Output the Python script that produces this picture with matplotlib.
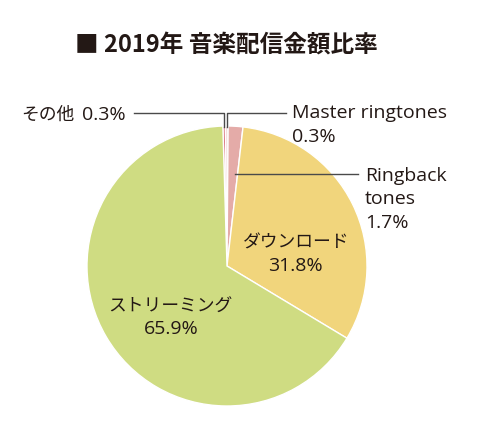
import numpy as np
import matplotlib
matplotlib.use("Agg")
import matplotlib.pyplot as plt

plt.rcParams['font.family'] = ['Noto Sans CJK JP', 'DejaVu Sans']

# ---- DATA ----
title = "■ 2019年 音楽配信金額比率"
labels = ["その他", "Master ringtones", "Ringback tones", "ダウンロード", "ストリーミング"]
shares = [0.3, 0.3, 1.7, 31.8, 65.9]
colors = ["#d9737d", "#f2d2d0", "#e4aba8", "#f1d57c", "#cfdc82"]

ink = "#231815"
line_col = "#4a4a4a"
latin = ['Open Sans', 'Noto Sans CJK JP']
cjk = ['Noto Sans CJK JP', 'Open Sans']
fs_lat, fs_cjk = 14, 12.8

W, H = 482, 442
fig = plt.figure(figsize=(W / 100, H / 100), dpi=100)
ax = fig.add_axes([0, 0, 1, 1])

cx, cy, r = 227, H - 266, 140
start = 91.7

wedges, _ = ax.pie(shares, colors=colors, startangle=start, counterclock=False,
                   center=(cx, cy), radius=r, frame=True,
                   wedgeprops=dict(edgecolor="white", linewidth=1.0))
ax.set_xlim(0, W)
ax.set_ylim(0, H)
ax.set_aspect("equal")
ax.axis("off")


def edge_point(w, frac=1.0):
    mid = np.deg2rad((w.theta1 + w.theta2) / 2)
    return cx + frac * r * np.cos(mid), cy + frac * r * np.sin(mid)


def lat(x, y, s, ha="left"):
    ax.text(x, H - y, s, ha=ha, va="baseline", fontsize=fs_lat, color=ink, family=latin)


def jp(x, y, s, ha="left"):
    ax.text(x, H - y, s, ha=ha, va="baseline", fontsize=fs_cjk, color=ink, family=cjk)


# その他
x0, y0 = edge_point(wedges[0])
ly = H - 113
ax.plot([x0, x0, 134], [y0 - 1, ly, ly], color=line_col, lw=1)
lat(126, 119.5, f"{shares[0]}%", ha="right")
jp(74, 120, labels[0], ha="right")

# Master ringtones
x1, y1 = edge_point(wedges[1])
ax.plot([x1, x1, 286], [y1 - 1, ly, ly], color=line_col, lw=1)
lat(292, 118.5, labels[1])
lat(292, 142, f"{shares[1]}%")

# Ringback tones
x2, _ = edge_point(wedges[2], 0.9)
ry = H - 174
ax.plot([x2, 358], [ry, ry], color=line_col, lw=1)
lat(365, 181, "Ringback")
lat(365, 204.5, "tones")
lat(365, 228, f"{shares[2]}%")

# inner labels
jp(296.5, 247.5, labels[3], ha="center")
lat(295.5, 271, f"{shares[3]}%", ha="center")
jp(170.5, 312, labels[4], ha="center")
lat(171, 334.5, f"{shares[4]}%", ha="center")

ax.text(75, H - 45, title, ha="left", va="center", fontsize=17,
        fontweight="bold", color=ink)

fig.savefig("out.png", dpi=100)
